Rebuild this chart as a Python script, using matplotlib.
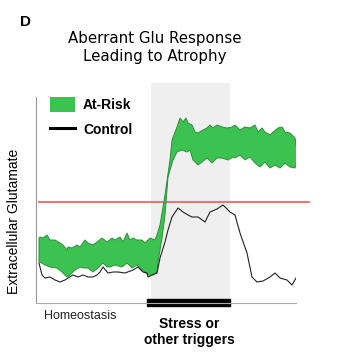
import matplotlib
matplotlib.use('Agg')
import matplotlib.pyplot as plt
from matplotlib.patches import Patch, Rectangle
from matplotlib.lines import Line2D
import numpy as np

# control trace (time, level), arbitrary units
ctrl_t = [3, 6, 9, 14, 19, 24, 29, 32, 37, 42, 47, 52, 57, 61, 64, 67, 72, 77,
          82, 89, 97, 102, 107, 111, 112, 116, 121, 124, 129, 132, 136, 142,
          147, 152, 156, 162, 169, 174, 181, 187, 194, 199, 204, 211, 216, 221,
          227, 234, 239, 244, 251, 256, 260]
ctrl_y = [40, 28, 25, 26, 23, 21, 23, 25, 28, 26, 28, 26, 26, 28, 31, 36, 30,
          31, 31, 30, 33, 36, 31, 30, 26, 28, 30, 45, 61, 73, 86, 95, 91, 88,
          86, 86, 81, 91, 94, 98, 91, 88, 70, 50, 26, 21, 22, 26, 30, 25, 23,
          18, 25]

# at-risk band, upper and lower edges
hi_t = [3, 4, 7, 11, 14, 19, 24, 27, 31, 32, 36, 41, 44, 49, 52, 57, 61, 66,
        71, 76, 79, 84, 87, 91, 94, 97, 101, 106, 109, 114, 119, 121, 124, 129,
        134, 136, 141, 144, 147, 150, 152, 156, 159, 162, 167, 171, 174, 177,
        181, 186, 191, 196, 199, 204, 209, 214, 219, 222, 226, 229, 234, 237,
        242, 246, 249, 254, 259, 261]
hi_y = [65, 66, 65, 68, 63, 63, 60, 58, 53, 56, 55, 58, 56, 63, 60, 58, 61, 65,
        61, 65, 63, 66, 61, 70, 63, 65, 63, 63, 60, 65, 63, 68, 78, 108, 143,
        163, 176, 185, 181, 185, 180, 178, 171, 170, 173, 175, 178, 175, 178,
        176, 175, 176, 178, 173, 176, 175, 178, 171, 175, 171, 168, 171, 175,
        176, 171, 170, 165, 153]
lo_t = [3, 4, 9, 14, 21, 26, 31, 34, 39, 44, 47, 52, 57, 62, 67, 71, 74, 79,
        86, 91, 96, 101, 106, 109, 112, 117, 121, 122, 126, 129, 132, 137, 141,
        146, 151, 154, 157, 162, 166, 171, 176, 181, 186, 192, 197, 199, 204,
        209, 214, 219, 224, 229, 234, 239, 244, 249, 254, 259, 261]
lo_y = [41, 41, 38, 36, 35, 31, 26, 28, 33, 36, 35, 35, 31, 35, 40, 36, 36, 38,
        36, 40, 35, 38, 33, 31, 28, 28, 31, 41, 65, 88, 126, 143, 151, 153,
        151, 153, 143, 138, 141, 145, 140, 145, 145, 143, 146, 145, 148, 143,
        146, 140, 136, 141, 135, 138, 135, 140, 136, 135, 141]

threshold = 101
stress_start, stress_end = 115, 194

W, H = 338, 358
fig = plt.figure(figsize=(W / 100, H / 100), dpi=100)
ax = fig.add_axes([36 / W, 1 - 303 / H, 260 / W, 220 / H])
ax.set_xlim(0, 260)
ax.set_ylim(0, 220)

ax.axvspan(stress_start, stress_end, color='#efefef', zorder=0, lw=0)
band_x = np.r_[hi_t, lo_t[::-1]]
band_y = np.r_[hi_y, lo_y[::-1]]
ax.fill(band_x, band_y, facecolor='#3cc250', edgecolor='#2f8f3c', lw=0.7,
        zorder=3)
ax.plot(ctrl_t, ctrl_y, color='#222222', lw=0.8, zorder=4)
ax.plot([3, 273], [threshold, threshold], color='#e87878', lw=1.5, zorder=2,
        clip_on=False)

for s in ['top', 'right']:
    ax.spines[s].set_visible(False)
ax.spines['left'].set_bounds(0, 206)
ax.spines['left'].set_color('#999999')
ax.spines['bottom'].set_color('#aaaaaa')
ax.set_xticks([])
ax.set_yticks([])

ax.add_patch(Rectangle((stress_start - 4, -3), stress_end - stress_start + 4, 7.5,
                       color='black', clip_on=False, zorder=2))

handles = [Patch(facecolor='#3cc250', edgecolor='none'),
           Line2D([0], [0], color='black', lw=2.2)]
ax.legend(handles, ['At-Risk', 'Control'], loc='upper left',
          bbox_to_anchor=(0.005, 0.995), frameon=False, handlelength=1.8,
          handleheight=1.3, handletextpad=0.6, labelspacing=0.7,
          prop={'weight': 'bold', 'size': 10, 'family': 'Liberation Sans'})

ax.set_ylabel('Extracellular Glutamate', fontsize=10, family='Liberation Sans')
ax.yaxis.set_label_coords(-0.058, 0.37)
fig.text(44 / W, 1 - 316 / H, 'Homeostasis', fontsize=9,
         family='Liberation Sans', va='center', color='#222222')
fig.text(189 / W, 1 - 332 / H, 'Stress or\nother triggers', fontsize=10,
         family='Liberation Sans', weight='bold', ha='center', va='center',
         linespacing=1.2)
fig.text(155 / W, 1 - 48 / H, 'Aberrant Glu Response\nLeading to Atrophy',
         fontsize=10.8, ha='center', va='center', linespacing=1.25)
fig.text(20 / W, 1 - 22 / H, 'D', fontsize=11, weight='bold',
         family='Liberation Sans', va='center')

fig.savefig('out.png', dpi=100)
